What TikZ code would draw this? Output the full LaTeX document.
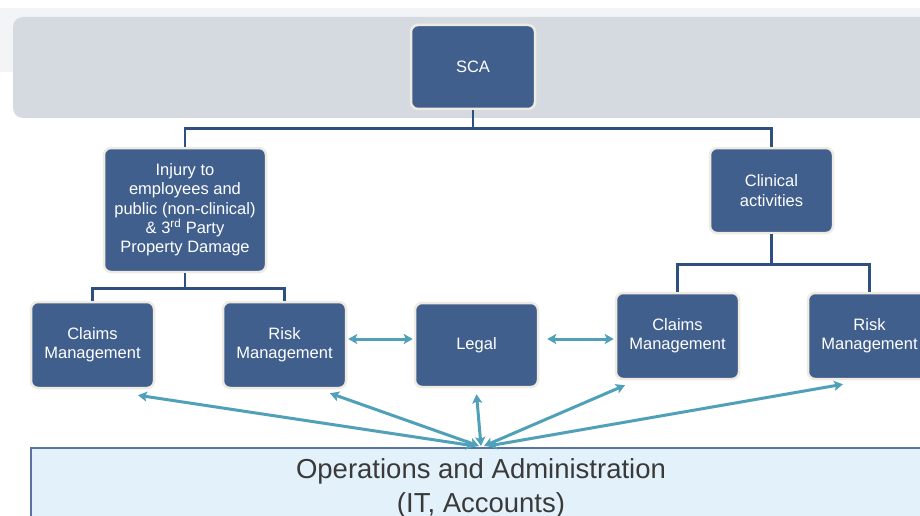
\documentclass[tikz,border=0pt]{standalone}
\usepackage{fontspec}
\setmainfont{Liberation Sans}
\usetikzlibrary{arrows.meta,calc}
\definecolor{boxblue}{HTML}{405F8D}
\definecolor{cream}{HTML}{EFEBE2}
\definecolor{treeline}{HTML}{2F4F80}
\definecolor{teal}{HTML}{4FA0B8}
\definecolor{band}{HTML}{D5D9E0}
\definecolor{faint}{HTML}{F3F4F5}
\definecolor{opsfill}{HTML}{E3F1FA}
\definecolor{opsborder}{HTML}{5B73A0}
\definecolor{opstext}{HTML}{3A3A3A}
\tikzset{
  orgbox/.style={draw=cream, line width=2.5pt, fill=boxblue, rounded corners=7pt,
    text=white, align=center, inner sep=2pt,
    font=\fontsize{16.5}{19.3}\selectfont},
  tree/.style={draw=treeline, line width=2.5pt},
  tarr/.style={draw=teal, line width=3pt,
    {Stealth[length=9pt,width=10pt,inset=2pt]}-{Stealth[length=9pt,width=10pt,inset=2pt]}},
  opslabel/.style={text=opstext, font=\fontsize{27.5}{34}\selectfont, anchor=base, inner sep=0pt},
}
\begin{document}
\begin{tikzpicture}[x=1pt,y=-1pt]
\useasboundingbox (0,0) rectangle (920,516);
\clip (0,0) rectangle (920,516);
% background bands
\fill[faint] (0,8) rectangle (920,72);
\fill[band, rounded corners=10pt] (13,17) rectangle (940,118);
% nodes
\node[orgbox, minimum width=124pt, minimum height=84pt] (sca) at (473,67) {SCA};
\node[orgbox, minimum width=162pt, minimum height=124pt] (inj) at (185,210)
  {Injury to\\employees and\\public (non-clinical)\\\& 3\textsuperscript{rd} Party\\Property Damage};
\node[orgbox, minimum width=123pt, minimum height=85pt] (clin) at (771.5,190.5) {Clinical\\activities};
\node[orgbox, minimum width=123pt, minimum height=86pt] (cl1) at (92.5,345) {Claims\\Management};
\node[orgbox, minimum width=123pt, minimum height=86pt] (rk1) at (284.5,345) {Risk\\Management};
\node[orgbox, minimum width=123pt, minimum height=84pt] (legal) at (476.5,345) {Legal};
\node[orgbox, minimum width=123pt, minimum height=86pt] (cl2) at (677.5,336) {Claims\\Management};
\node[orgbox, minimum width=123pt, minimum height=86pt] (rk2) at (869.5,336) {Risk\\Management};
% operations box
\node[draw=opsborder, line width=2pt, fill=opsfill, minimum width=910pt, minimum height=90pt,
  anchor=north west, inner sep=0pt] (ops) at (30,447) {};
\node[opslabel] (opst1) at (481,478) {Operations and Administration};
\node[opslabel] (opst2) at (481,512) {(IT, Accounts)};
% tree connectors
\draw[tree] (sca.south) -- ++(0,18) -| (inj.north);
\draw[tree] (sca.south) -- ++(0,18) -| (clin.north);
\draw[tree] (inj.south) -- ++(0,15) -| (cl1.north);
\draw[tree] (inj.south) -- ++(0,15) -| (rk1.north);
\draw[tree] (clin.south) -- ++(0,30) -| (cl2.north);
\draw[tree] (clin.south) -- ++(0,30) -| (rk2.north);
% horizontal double arrows
\draw[tarr] ([xshift=1pt]rk1.east |- 0,339) -- ([xshift=-1pt]legal.west |- 0,339);
\draw[tarr] ([xshift=8pt]legal.east |- 0,339) -- ([xshift=-1pt]cl2.west |- 0,339);
% hub arrows
\coordinate (hub) at ([shift={(-5,-1)}]ops.north);
\draw[tarr] ([xshift=-6pt]hub) -- ([shift={(45.5,6)}]cl1.south);
\draw[tarr] ([xshift=-2pt]hub) -- ([shift={(45.5,4)}]rk1.south);
\draw[tarr] (hub) -- ([shift={(0,6)}]legal.south);
\draw[tarr] ([xshift=3pt]hub) -- ([shift={(-52.5,5)}]cl2.south);
\draw[tarr] ([xshift=7pt]hub) -- ([shift={(-26.5,4)}]rk2.south);
\end{tikzpicture}
\end{document}
